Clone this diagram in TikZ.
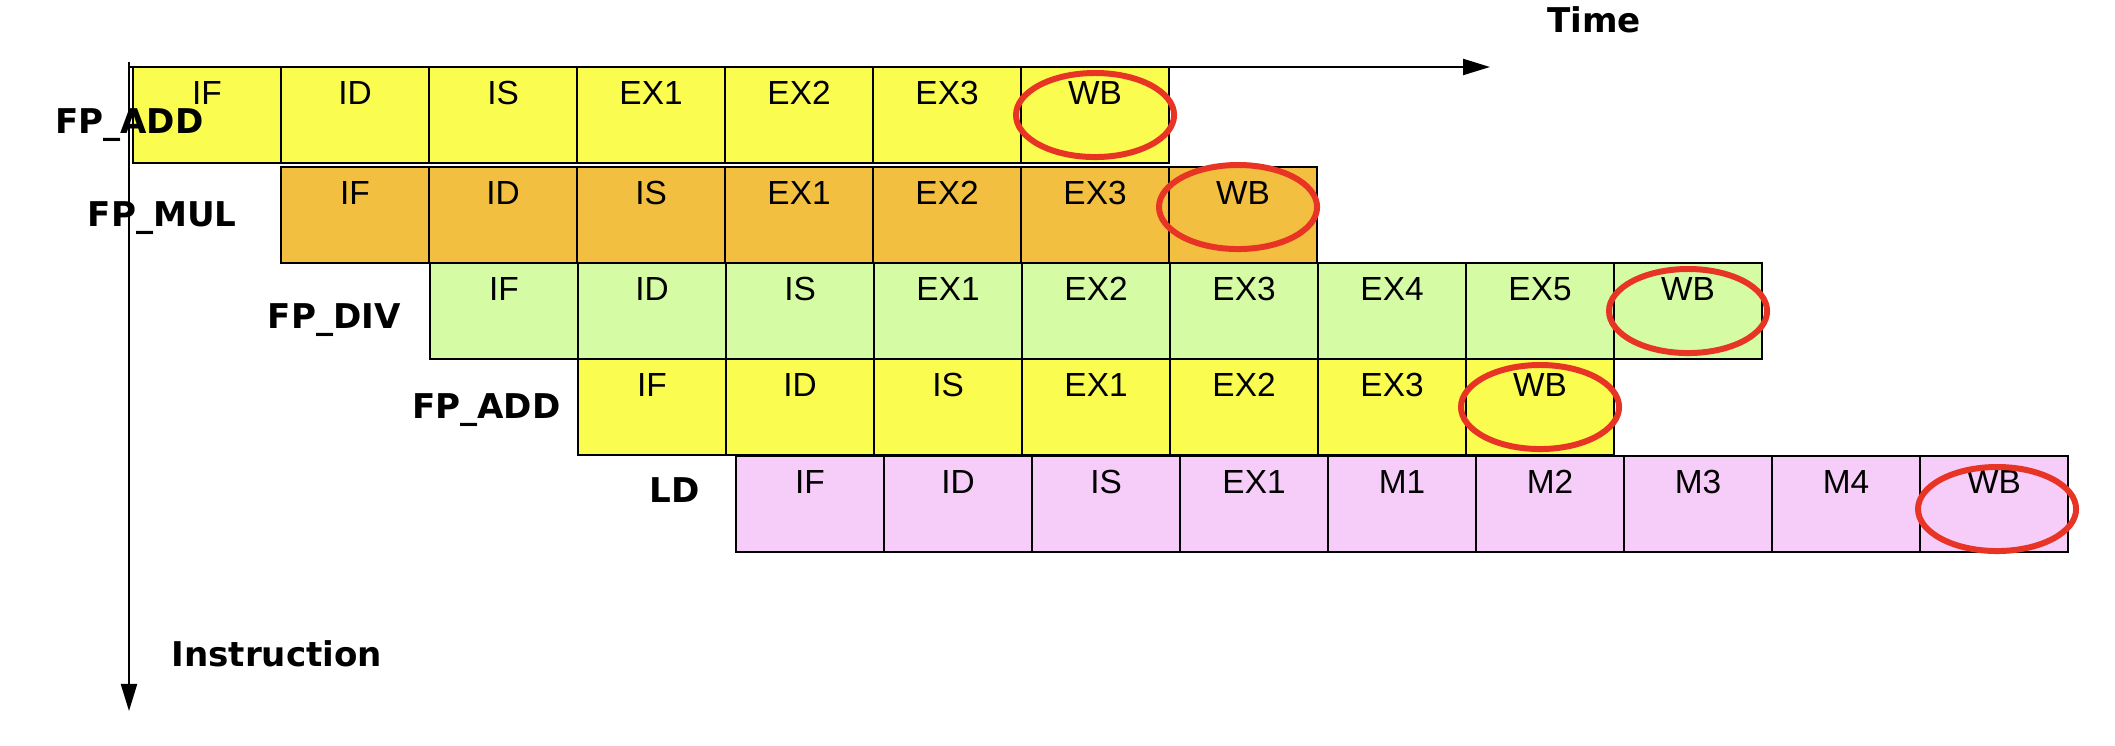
\documentclass[tikz,border=0pt]{standalone}
\usepackage{fontspec}
\setmainfont{Liberation Sans}
\newfontfamily\labelfont{DejaVu Sans}
\usepackage{tikz}
\usetikzlibrary{positioning, arrows.meta, shapes.geometric}
\definecolor{addcolor}{RGB}{250,252,80}
\definecolor{mulcolor}{RGB}{242,191,64}
\definecolor{divcolor}{RGB}{213,252,165}
\definecolor{ldcolor}{RGB}{246,204,248}
\definecolor{ringred}{RGB}{232,52,36}

\tikzset{
  stage/.style={draw, line width=0.7pt, anchor=north west, minimum width=1.48cm,
    inner xsep=0pt, inner ysep=0pt, outer sep=0pt,
    text height=0.37cm, text depth=0.59cm, font=\fontsize{9.5}{11}\selectfont},
  wbring/.style={ellipse, draw=ringred, line width=1.7pt, minimum width=1.58cm,
    minimum height=0.84cm, inner sep=0pt},
  instr/.style={font=\labelfont\bfseries\fontsize{9.7}{11}\selectfont}
}

\begin{document}
\begin{tikzpicture}[x=0.01cm, y=-0.01cm, >={Triangle[length=0.27cm, width=0.16cm]}]
\useasboundingbox (0,0) rectangle (2115,746);

% Axes
\coordinate (torigin) at (129,67);
\coordinate (tend) at (1490,67);
\coordinate (iorigin) at (129,62);
\coordinate (iend) at (129,711);
\draw[->, line width=0.6pt] (torigin) -- (tend);
\draw[->, line width=0.6pt] (iorigin) -- (iend);
\node[instr, anchor=base west] (time) at (1535,33) {Time};
\node[instr, anchor=base west] (instruction) at (159,666) {Instruction};

% FP_ADD
\foreach \s [count=\i] in {IF,ID,IS,EX1,EX2,EX3,WB}
    \node[stage, fill=addcolor] (adda\i) at ({133+148*(\i-1)},67) {\s};

% FP_MUL
\foreach \s [count=\i] in {IF,ID,IS,EX1,EX2,EX3,WB}
    \node[stage, fill=mulcolor] (mul\i) at ({281+148*(\i-1)},167) {\s};

% FP_DIV
\foreach \s [count=\i] in {IF,ID,IS,EX1,EX2,EX3,EX4,EX5,WB}
    \node[stage, fill=divcolor] (div\i) at ({430+148*(\i-1)},263) {\s};

% FP_ADD (second)
\foreach \s [count=\i] in {IF,ID,IS,EX1,EX2,EX3,WB}
    \node[stage, fill=addcolor] (addb\i) at ({578+148*(\i-1)},359) {\s};

% LD
\foreach \s [count=\i] in {IF,ID,IS,EX1,M1,M2,M3,M4,WB}
    \node[stage, fill=ldcolor] (ld\i) at ({736+148*(\i-1)},456) {\s};

% Write-back circles
\node[wbring] (ringa) at (adda7) {};
\node[wbring] (ringm) at ([shift={(-5,-8)}]mul7.center) {};
\node[wbring] (ringd) at (div9) {};
\node[wbring] (ringb) at (addb7) {};
\node[wbring] (ringl) at ([shift={(3,5)}]ld9.center) {};

% Instruction names
\node[instr, anchor=base east] (nadda) at (216,134) {FP\_ADD};
\node[instr, anchor=base east] (nmul) at (249,227) {FP\_MUL};
\node[instr, anchor=base east] (ndiv) at (413,329) {FP\_DIV};
\node[instr, anchor=base east] (naddb) at (573,419) {FP\_ADD};
\node[instr, anchor=base east] (nld) at (712,503) {LD};

\end{tikzpicture}
\end{document}
